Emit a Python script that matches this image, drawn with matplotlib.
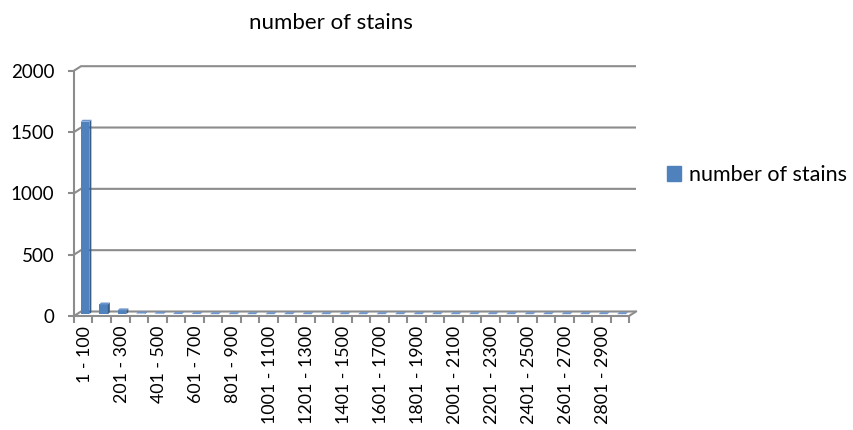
import matplotlib.pyplot as plt
from matplotlib.patches import Patch, Polygon

plt.rcParams['font.family'] = ['Lato', 'DejaVu Sans']

# stain size classes and counts
size_classes = [
    "1 - 100", "101 - 200", "201 - 300", "301 - 400", "401 - 500",
    "501 - 600", "601 - 700", "701 - 800", "801 - 900", "901 - 1000",
    "1001 - 1100", "1101 - 1200", "1201 - 1300", "1301 - 1400", "1401 - 1500",
    "1501 - 1600", "1601 - 1700", "1701 - 1800", "1801 - 1900", "1901 - 2000",
    "2001 - 2100", "2101 - 2200", "2201 - 2300", "2301 - 2400", "2401 - 2500",
    "2501 - 2600", "2601 - 2700", "2701 - 2800", "2801 - 2900", "2901 - 3000",
]
stain_counts = [
    1570, 80, 32, 6, 5, 2, 2, 1, 1, 1,
    1, 1, 1, 1, 1, 1, 1, 1, 1, 1,
    1, 1, 1, 1, 1, 1, 1, 1, 1, 1,
]
y_ticks = [0, 500, 1000, 1500, 2000]

W, H = 854, 430
FRONT = "#4F81BD"
SIDE = "#385D8A"
TOP = "#6F96CC"
GRID = "#8C8C8C"

fig = plt.figure(figsize=(W / 100, H / 100), dpi=100)
ax = fig.add_axes([74 / W, (H - 316) / H, 555 / W, 245.3 / H])
n = len(size_classes)
ax.set_xlim(0, n)
ax.set_ylim(0, y_ticks[-1])

px_x = 555 / n
px_y = 245.3 / y_ticks[-1]

# back wall / floor offset (fake 3d)
dx = 7 / px_x
dy = 4.5 / px_y
for v in y_ticks:
    ax.plot([0, dx, n + dx], [v, v + dy, v + dy], color=GRID, lw=1.5,
            clip_on=False, zorder=1, solid_capstyle="butt")
ax.plot([n, n + dx], [0, dy], color=GRID, lw=1.5, clip_on=False, zorder=1)

# bars with a small side and top face
bar_w = 0.47
bdx = 2 / px_x
bdy = 2 / px_y
base = 1.7 / px_y
for i, v in enumerate(stain_counts):
    x0 = i + 0.36
    ax.bar(x0, v, width=bar_w, bottom=base, align="edge", color=FRONT,
           lw=0, zorder=3, clip_on=False)
    side = [(x0 + bar_w, base), (x0 + bar_w + bdx, base + bdy),
            (x0 + bar_w + bdx, base + v + bdy), (x0 + bar_w, base + v)]
    top = [(x0, base + v), (x0 + bdx, base + v + bdy),
           (x0 + bar_w + bdx, base + v + bdy), (x0 + bar_w, base + v)]
    ax.add_patch(Polygon(side, closed=True, color=SIDE, lw=0, zorder=3, clip_on=False))
    ax.add_patch(Polygon(top, closed=True, color=TOP, lw=0, zorder=3, clip_on=False))

for s in ["top", "right"]:
    ax.spines[s].set_visible(False)
for s in ["left", "bottom"]:
    ax.spines[s].set_color(GRID)
    ax.spines[s].set_linewidth(1.5)
    ax.spines[s].set_zorder(4)

ax.set_yticks(y_ticks)
ax.set_yticklabels([str(v) for v in y_ticks])
ax.tick_params(axis="y", direction="out", length=4, width=1.5, color=GRID,
               pad=10, labelsize=13.5)

ax.set_xticks(range(n + 1))
ax.set_xticklabels([])
ax.tick_params(axis="x", which="major", direction="out", length=5, width=1.5, color=GRID)
ax.set_xticks([i + 0.6 for i in range(0, n, 2)], minor=True)
ax.set_xticklabels(size_classes[::2], minor=True, rotation=90, va="top", ha="center")
ax.tick_params(axis="x", which="minor", length=0, pad=7, labelsize=12.8)

fig.text(331 / W, 1 - 23 / H, "number of stains", ha="center", va="center", fontsize=16)

fig.legend(handles=[Patch(color=FRONT)], labels=["number of stains"],
           loc="center left", bbox_to_anchor=(667 / W, 1 - 175 / H),
           frameon=False, borderpad=0, borderaxespad=0, fontsize=15.5,
           handlelength=0.67, handleheight=0.67, handletextpad=0.35)

fig.savefig("out.png", dpi=100)
